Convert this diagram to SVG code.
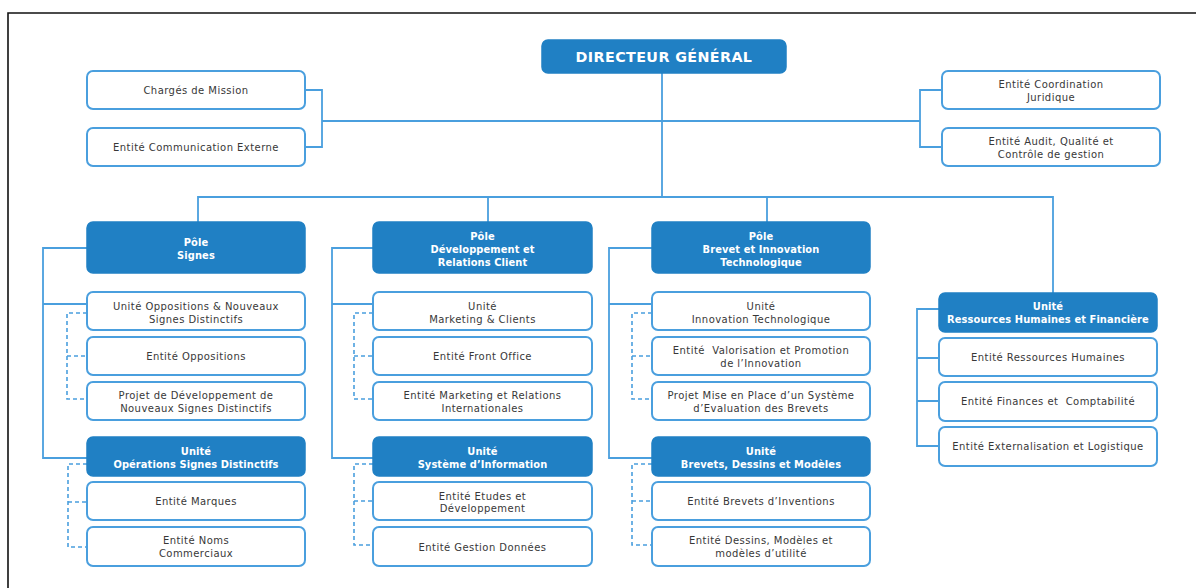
<svg xmlns="http://www.w3.org/2000/svg" width="1196" height="588" viewBox="0 0 1196 588">
<style>
.dk{fill:#2080c4;stroke:#2080c4;stroke-width:1.5}
.wb{fill:#ffffff;stroke:#4a9fde;stroke-width:2}
.ln{fill:none;stroke:#4a9fde;stroke-width:1.8}
.ds{fill:none;stroke:#4a9fde;stroke-width:1.6;stroke-dasharray:4 3}
.tw{font-family:"DejaVu Sans",sans-serif;font-size:9.9px;font-weight:bold;fill:#ffffff;text-anchor:middle;letter-spacing:0.1px}
.tg{font-family:"DejaVu Sans",sans-serif;font-size:10px;fill:#383838;text-anchor:middle;letter-spacing:0.45px}
.td{font-family:"DejaVu Sans",sans-serif;font-size:14.3px;font-weight:bold;fill:#ffffff;text-anchor:middle;letter-spacing:0.4px}
</style>
<rect width="1196" height="588" fill="#ffffff"/>
<path d="M8,588 V13 H1196" fill="none" stroke="#111" stroke-width="1.6"/>
<g id="connectors">
<path class="ln" d="M662,73 V197"/>
<path class="ln" d="M322,121 H920"/>
<path class="ln" d="M305,90 H322 V147 H305"/>
<path class="ln" d="M942,90 H920 V147 H942"/>
<path class="ln" d="M198,222 V197 H1053 V293"/>
<path class="ln" d="M488,197 V222"/>
<path class="ln" d="M767,197 V222"/>
<path class="ln" d="M87,248 H43 V458 H87 M43,304 H87"/>
<path class="ln" d="M373,248 H332 V458 H373 M332,304 H373"/>
<path class="ln" d="M652,248 H609 V458 H652 M609,304 H652"/>
<path class="ln" d="M939,309 H917 V446 H939 M917,358 H939 M917,401 H939"/>
<path class="ds" d="M87,313 H67 V399 H87 M67,356 H87"/>
<path class="ds" d="M87,464 H68 V547 H87 M68,502 H87"/>
<path class="ds" d="M373,313 H354 V399 H373 M354,356 H373"/>
<path class="ds" d="M373,464 H354 V545 H373 M354,501 H373"/>
<path class="ds" d="M652,313 H632 V399 H652 M632,356 H652"/>
<path class="ds" d="M652,464 H632 V545 H652 M632,501 H652"/>
</g>
<g id="dg"><rect class="dk" x="542" y="40" width="244" height="33" rx="6"/><text class="td" x="664" y="62">DIRECTEUR GÉNÉRAL</text></g>
<g id="cm"><rect class="wb" x="87" y="71" width="218" height="38" rx="6"/><text class="tg" x="196" y="93.5">Chargés de Mission</text></g>
<g id="ce"><rect class="wb" x="87" y="128" width="218" height="38" rx="6"/><text class="tg" x="196" y="150.5">Entité Communication Externe</text></g>
<g id="cj"><rect class="wb" x="942" y="71" width="218" height="38" rx="6"/><text class="tg" x="1051" y="88">Entité Coordination</text><text class="tg" x="1051" y="100.5">Juridique</text></g>
<g id="aq"><rect class="wb" x="942" y="128" width="218" height="38" rx="6"/><text class="tg" x="1051" y="145">Entité Audit, Qualité et</text><text class="tg" x="1051" y="157.5">Contrôle de gestion</text></g>

<g id="ps"><rect class="dk" x="87" y="222" width="218" height="51" rx="6"/><text class="tw" x="196" y="246">Pôle</text><text class="tw" x="196" y="259">Signes</text></g>
<g id="uo"><rect class="wb" x="87" y="292" width="218" height="38" rx="6"/><text class="tg" x="196" y="310">Unité Oppositions &amp; Nouveaux</text><text class="tg" x="196" y="322.5">Signes Distinctifs</text></g>
<g id="eo"><rect class="wb" x="87" y="337" width="218" height="38" rx="6"/><text class="tg" x="196" y="359.5">Entité Oppositions</text></g>
<g id="pd"><rect class="wb" x="87" y="382" width="218" height="38" rx="6"/><text class="tg" x="196" y="398.5">Projet de Développement de</text><text class="tg" x="196" y="411.5">Nouveaux Signes Distinctifs</text></g>
<g id="us"><rect class="dk" x="87" y="437" width="218" height="39" rx="6"/><text class="tw" x="196" y="455">Unité</text><text class="tw" x="196" y="467.5">Opérations Signes Distinctifs</text></g>
<g id="em"><rect class="wb" x="87" y="482" width="218" height="38" rx="6"/><text class="tg" x="196" y="505">Entité Marques</text></g>
<g id="en"><rect class="wb" x="87" y="527" width="218" height="39" rx="6"/><text class="tg" x="196" y="543.5">Entité Noms</text><text class="tg" x="196" y="557">Commerciaux</text></g>

<g id="pdr"><rect class="dk" x="373" y="222" width="219" height="51" rx="6"/><text class="tw" x="482.5" y="239.5">Pôle</text><text class="tw" x="482.5" y="252.5">Développement et</text><text class="tw" x="482.5" y="265.5">Relations Client</text></g>
<g id="umc"><rect class="wb" x="373" y="292" width="219" height="38" rx="6"/><text class="tg" x="482.5" y="310">Unité</text><text class="tg" x="482.5" y="322.5">Marketing &amp; Clients</text></g>
<g id="efo"><rect class="wb" x="373" y="337" width="219" height="38" rx="6"/><text class="tg" x="482.5" y="359.5">Entité Front Office</text></g>
<g id="emr"><rect class="wb" x="373" y="382" width="219" height="38" rx="6"/><text class="tg" x="482.5" y="398.5">Entité Marketing et Relations</text><text class="tg" x="482.5" y="411.5">Internationales</text></g>
<g id="usi"><rect class="dk" x="373" y="437" width="219" height="39" rx="6"/><text class="tw" x="482.5" y="455">Unité</text><text class="tw" x="482.5" y="467.5">Système d’Information</text></g>
<g id="eed"><rect class="wb" x="373" y="482" width="219" height="38" rx="6"/><text class="tg" x="482.5" y="499.5">Entité Etudes et</text><text class="tg" x="482.5" y="512">Développement</text></g>
<g id="egd"><rect class="wb" x="373" y="527" width="219" height="39" rx="6"/><text class="tg" x="482.5" y="551">Entité Gestion Données</text></g>

<g id="pbi"><rect class="dk" x="652" y="222" width="218" height="51" rx="6"/><text class="tw" x="761" y="239.5">Pôle</text><text class="tw" x="761" y="252.5">Brevet et Innovation</text><text class="tw" x="761" y="265.5">Technologique</text></g>
<g id="uit"><rect class="wb" x="652" y="292" width="218" height="38" rx="6"/><text class="tg" x="761" y="310">Unité</text><text class="tg" x="761" y="322.5">Innovation Technologique</text></g>
<g id="evp"><rect class="wb" x="652" y="337" width="218" height="38" rx="6"/><text class="tg" x="761" y="353.5" xml:space="preserve">Entité  Valorisation et Promotion</text><text class="tg" x="761" y="366.5">de l’Innovation</text></g>
<g id="pmp"><rect class="wb" x="652" y="382" width="218" height="38" rx="6"/><text class="tg" x="761" y="398.5">Projet Mise en Place d’un Système</text><text class="tg" x="761" y="411.5">d’Evaluation des Brevets</text></g>
<g id="ubd"><rect class="dk" x="652" y="437" width="218" height="39" rx="6"/><text class="tw" x="761" y="455">Unité</text><text class="tw" x="761" y="467.5">Brevets, Dessins et Modèles</text></g>
<g id="ebi"><rect class="wb" x="652" y="482" width="218" height="38" rx="6"/><text class="tg" x="761" y="505">Entité Brevets d’Inventions</text></g>
<g id="edm"><rect class="wb" x="652" y="527" width="218" height="39" rx="6"/><text class="tg" x="761" y="543.5">Entité Dessins, Modèles et</text><text class="tg" x="761" y="557">modèles d’utilité</text></g>

<g id="urh"><rect class="dk" x="939" y="293" width="218" height="39" rx="6"/><text class="tw" x="1048" y="309.5">Unité</text><text class="tw" x="1048" y="322.5">Ressources Humaines et Financière</text></g>
<g id="erh"><rect class="wb" x="939" y="338" width="218" height="38" rx="6"/><text class="tg" x="1048" y="360.5">Entité Ressources Humaines</text></g>
<g id="efc"><rect class="wb" x="939" y="382" width="218" height="39" rx="6"/><text class="tg" x="1048" y="405" xml:space="preserve">Entité Finances et  Comptabilité</text></g>
<g id="eel"><rect class="wb" x="939" y="427" width="218" height="39" rx="6"/><text class="tg" x="1048" y="450">Entité Externalisation et Logistique</text></g>
</svg>
